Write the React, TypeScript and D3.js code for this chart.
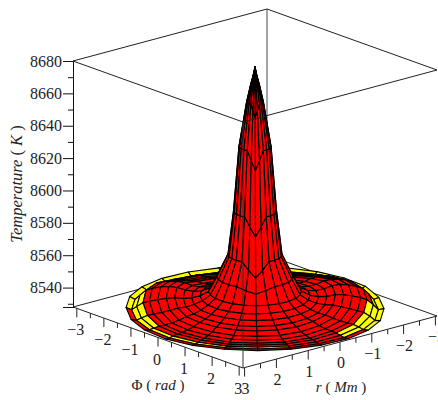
import React, { useEffect, useRef } from 'react';
import * as d3 from 'd3';

// radial profile of the surface
const radii = [0, 0.05, 0.1, 0.2, 0.38, 0.51, 0.64, 0.9, 1.1, 1.3, 1.5, 1.7, 1.9, 2.1, 2.3, 2.5, 2.65, 2.8, 2.92, 3.05];
const temps = [8679, 8672, 8665, 8649, 8618, 8578, 8553.6, 8546, 8540.5, 8537, 8534.4, 8532.3, 8531, 8529.2, 8528.4, 8528.2, 8528.3, 8528.4, 8528.5, 8528.6];
// share of each spoke's lift that reaches each ring
const skewShare = [0, 0.1, 0.3, 0.7, 1, 1, 0.8, 0.3, 0, 0, 0, 0, 0, 0, 0, 0, 0, 0, 0, 0];
const ridgeShare = [0, 0, 0, 0, 0, 0, 0, 0, 0, 0.1, 0.3, 0.55, 0.8, 1, 1, 0.9, 0.75, 0.4, 0, 0];
const rimShare = [0, 0, 0, 0, 0, 0, 0, 0, 0, 0, 0, 0, 0, 0, 0, 0, 0, 0, 0.4, 1];

const spokes = [10, 25, 40, 55, 70, 85, 100, 115, 130, 145, 160, 175, 190, 205, 220, 235, 250, 265, 280, 295, 310, 325, 340, 355];
const skew = [12, 6, 0, 6, 12, 12, 12, 12, 12, 12, 12, 12, 12, 12, 12, 12, 12, 12, 12, 12, 12, 12, 12, 12];
const ridge = [1, 0.5, 0.5, 0.5, 1, 1.5, 2, 4, 7, 10, 9, 6, 5, 4, 4, 5, 6, 8, 10, 11, 9, 6, 3, 2];
const rimLift = [0, 0, 0, 0, 0, 0, 0.5, 1, 2, 2.5, 2.5, 2.5, 2.5, 2.5, 2.5, 2.5, 2.5, 2.5, 2.5, 1.5, 1, 0, 0, 0];
// outer rings per spoke: how many stay red at the rim, then how many are yellow
const rimRed = [1, 1, 1, 1, 1, 1, 1, 1, 0, 0, 0, 0, 0, 0, 0, 0, 0, 0, 0, 0, 0, 0, 1, 1];
const rimYellow = [0, 1, 1, 1, 1, 1, 2, 2, 3, 2, 2, 2, 2, 2, 2, 2, 2, 2, 2, 2, 3, 3, 2, 0];

const tempTicks = [8540, 8560, 8580, 8600, 8620, 8640, 8660, 8680];
const tempMinor = [8530, 8550, 8570, 8590, 8610, 8630, 8650, 8670];
const phiTicks = [-3, -2, -1, 0, 1, 2, 3];
const phiMinor = [-2.5, -1.5, -0.5, 0.5, 1.5, 2.5];
const rTicks = [3, 2, 1, 0, -1, -2, -3];
const rMinor = [2.5, 1.5, 0.5, -0.5, -1.5, -2.5];

const fmt = (d: number) => (d < 0 ? '\u2212' + -d : '' + d);

export default function App() {
  const ref = useRef<SVGSVGElement>(null);

  useEffect(() => {
    const svg = d3.select(ref.current);
    svg.selectAll('*').remove();

    const u = d3.scaleLinear().domain([-Math.PI, Math.PI]).range([0, 1]);
    const v = d3.scaleLinear().domain([3.05, -3.05]).range([0, 1]);
    const zY = d3.scaleLinear().domain([8528, 8680]).range([307, 61]);

    // oblique projection of the box
    const px = (phi: number, r: number) => 73 + u(phi) * 170 + v(r) * 194;
    const py = (phi: number, r: number) => u(phi) * 61 - v(r) * 52;
    const project = (phi: number, r: number, t: number): [number, number] => [px(phi, r), py(phi, r) + zY(t)];

    const line = d3.line();
    const edge = (g: any, pts: [number, number][], color: string, w = 1) =>
      g.append('path').attr('d', line(pts)).attr('fill', 'none').attr('stroke', color).attr('stroke-width', w);

    const P0 = -Math.PI, P1 = Math.PI, R0 = 3.05, R1 = -3.05, Z0 = 8528, Z1 = 8680;

    // box edges behind the surface
    const back = svg.append('g');
    edge(back, [project(P1, R1, Z0), project(P0, R1, Z0), project(P0, R0, Z0)], '#222');
    edge(back, [project(P0, R1, Z0), project(P0, R1, Z1)], '#666', 1.2);
    edge(back, [project(P0, R0, Z1), project(P0, R1, Z1), project(P1, R1, Z1)], '#222');

    // surface cells, far ones first
    const cells: any[] = [];
    spokes.forEach((a, i) => {
      const next = (i + 1) % spokes.length;
      d3.range(radii.length - 1).forEach((j) => {
        const corner = (s: number, k: number) => {
          const ang = (spokes[s] * Math.PI) / 180;
          const phi = (radii[k] * Math.cos(ang) * Math.PI) / 3.05;
          const r = radii[k] * Math.sin(ang);
          const t = temps[k] + skew[s] * skewShare[k] + ridge[s] * ridgeShare[k] + rimLift[s] * rimShare[k];
          return { s: project(phi, r, t), depth: py(phi, r) };
        };
        const q = [corner(i, j), corner(i, j + 1), corner(next, j + 1), corner(next, j)];
        const fromRim = radii.length - 2 - j;
        const yellow = fromRim >= rimRed[i] && fromRim < rimRed[i] + rimYellow[i];
        cells.push({ pts: q.map((c) => c.s), depth: d3.mean(q, (c) => c.depth), yellow });
      });
    });
    cells.sort((a, b) => d3.ascending(a.depth, b.depth));
    svg.append('g').selectAll('path').data(cells).join('path')
      .attr('d', (d: any) => line(d.pts) + 'Z')
      .attr('fill', (d: any) => (d.yellow ? '#ffff00' : '#ff0000'))
      .attr('stroke', '#000')
      .attr('stroke-width', 1.1)
      .attr('stroke-linejoin', 'round');

    // box edges in front of the surface
    const front = svg.append('g');
    edge(front, [project(P0, R0, Z1), project(P1, R0, Z1), project(P1, R1, Z1)], '#222');
    edge(front, [project(P0, R0, Z0), project(P1, R0, Z0), project(P1, R1, Z0)], '#222');
    edge(front, [project(P1, R0, Z1), project(P1, R0, Z0)], '#333');

    // temperature axis
    const axisMinor = d3.axisLeft(zY).tickValues(tempMinor).tickSize(5).tickFormat(() => '');
    const axisMajor = d3.axisLeft(zY).tickValues(tempTicks).tickSize(10).tickPadding(1).tickFormat((d: any) => '' + d);
    const gz = svg.append('g').attr('transform', 'translate(73,0)');
    gz.append('g').call(axisMinor as any).call((g: any) => g.select('.domain').remove());
    gz.append('g').call(axisMajor as any);
    gz.selectAll('path, line').attr('stroke', '#111');
    gz.selectAll('text').attr('font-size', 16).attr('font-family', '"Liberation Serif"').attr('fill', '#222');

    // phi and r axes: ticks hang straight down from the floor edges
    const phiAxis = svg.append('g');
    const rAxis = svg.append('g');
    const tickMarks = (g: any, vals: number[], at: (d: number) => [number, number], len: number) =>
      g.selectAll(null).data(vals).join('line')
        .attr('x1', (d: number) => at(d)[0]).attr('x2', (d: number) => at(d)[0])
        .attr('y1', (d: number) => at(d)[1]).attr('y2', (d: number) => at(d)[1] + len)
        .attr('stroke', '#222');
    const tickText = (g: any, vals: number[], at: (d: number) => [number, number], dy: number, dx = 0) =>
      g.selectAll(null).data(vals).join('text')
        .attr('x', (d: number) => at(d)[0] + dx).attr('y', (d: number) => at(d)[1] + dy)
        .attr('text-anchor', 'middle').attr('font-size', 16).attr('font-family', '"Liberation Serif"').attr('fill', '#222')
        .text(fmt);
    const phiAt = (d: number) => project(d, R0, Z0);
    const rAt = (d: number) => project(P1, d, Z0);
    tickMarks(phiAxis, phiTicks, phiAt, 9);
    tickMarks(phiAxis, phiMinor, phiAt, 5);
    tickText(phiAxis, phiTicks, phiAt, 27, -1);
    tickMarks(rAxis, rTicks, rAt, 9);
    tickMarks(rAxis, rMinor, rAt, 5);
    tickText(rAxis, rTicks, rAt, 26, 1);

    // axis titles
    const title = (x: number, y: number, rot: number, size: number, parts: [string, boolean][]) => {
      const t = svg.append('text').attr('transform', `translate(${x},${y}) rotate(${rot})`)
        .attr('text-anchor', 'middle').attr('font-size', size).attr('font-family', '"Liberation Serif"').attr('fill', '#222');
      parts.forEach(([s, it]) => t.append('tspan').attr('font-style', it ? 'italic' : 'normal').text(s));
    };
    title(22, 184, -90, 16.5, [['Temperature', true], [' ( ', false], ['K', true], [' )', false]]);
    title(158, 390, 0, 15, [['\u03a6', false], [' ( ', false], ['rad', true], [' )', false]]);
    title(341, 392, 0, 15, [['r', true], [' ( ', false], ['Mm', true], [' )', false]]);
  }, []);

  return <svg ref={ref} width={438} height={400} style={{ position: 'absolute', left: 0, top: 0, background: '#fff' }} />;
}
